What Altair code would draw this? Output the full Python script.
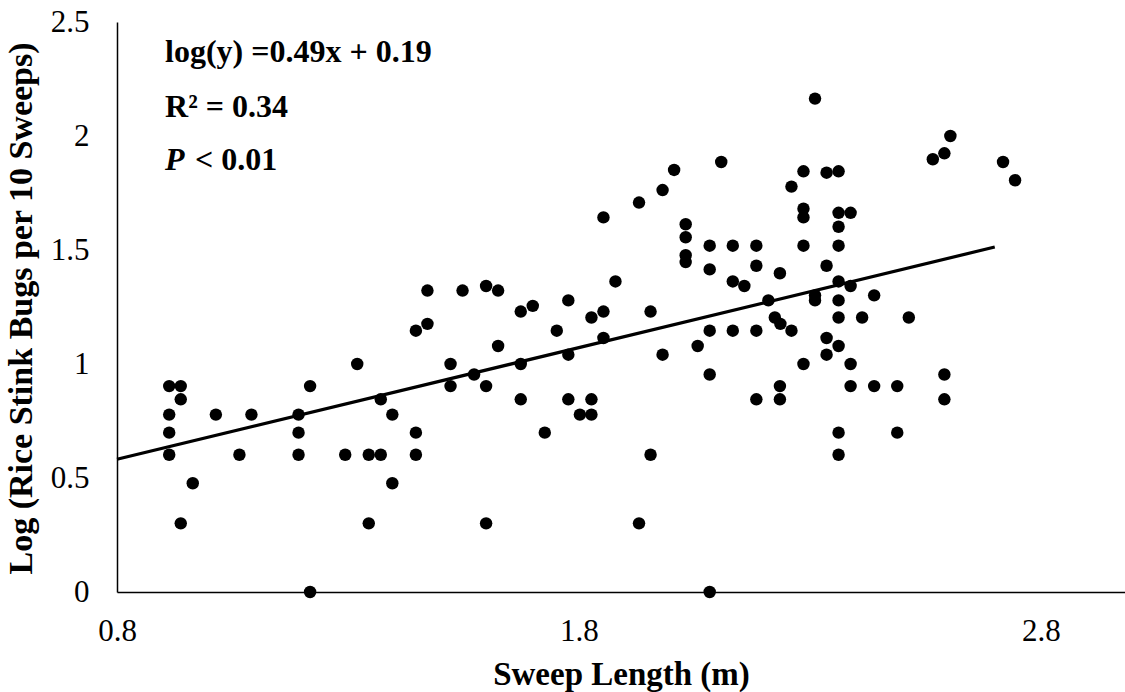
import altair as alt
import pandas as pd

# Sweep length (m) and log10 of rice stink bugs per 10 sweeps, one entry per sample
sweep_length = [
    0.913, 0.938, 0.938, 0.913, 1.014, 1.091, 1.193, 1.218, 0.913, 1.193,
    0.913, 1.065, 1.193, 1.294, 0.964, 0.938, 1.218,
    1.472, 1.548, 1.599, 1.625, 1.472, 1.447, 1.625, 1.674, 1.700,
    1.777, 1.752, 1.827, 1.320, 1.522, 1.674, 1.777, 1.573, 1.371, 1.522,
    1.599, 1.674, 1.777, 1.827, 1.396, 1.802, 1.827, 1.447, 1.726, 1.345,
    1.371, 1.447, 1.396, 1.345, 1.599,
    1.853, 1.930, 1.981, 2.006, 2.108, 1.879, 1.853, 1.955, 1.853, 1.981,
    2.057, 2.083, 2.133, 2.184, 2.083, 2.184, 2.235, 2.235, 1.955, 1.930,
    2.083, 2.031, 2.031, 2.031, 2.031, 2.083, 2.083, 2.133, 2.184, 2.184,
    2.133, 2.158, 2.235, 2.210, 2.224, 2.236, 2.260, 2.286, 2.260, 2.286,
    2.336, 2.362, 2.286, 2.286, 2.286, 2.362, 2.362, 2.362, 2.336, 2.362,
    2.311, 2.311, 2.362, 2.362, 2.336, 2.336, 2.362, 2.362, 2.362,
    2.388, 2.388, 2.439, 2.413, 2.514, 2.388, 2.388, 2.439, 2.489, 2.591,
    2.591, 2.489, 2.604, 2.591, 2.566, 2.718, 2.744, 2.311,
]
log_bugs = [
    0.903, 0.903, 0.845, 0.778, 0.778, 0.778, 0.778, 0.903, 0.699, 0.699,
    0.602, 0.602, 0.602, 0.602, 0.477, 0.301, 0.000,
    1.322, 1.322, 1.342, 1.322, 1.176, 1.146, 1.079, 1.230, 1.255,
    1.279, 1.146, 1.204, 1.000, 1.000, 1.000, 1.041, 0.954, 0.845, 0.903,
    0.903, 0.845, 0.845, 0.845, 0.778, 0.778, 0.778, 0.699, 0.699, 0.602,
    0.602, 0.602, 0.477, 0.301, 0.301,
    1.643, 1.708, 1.763, 1.851, 1.886, 1.362, 1.230, 1.230, 1.114, 1.041,
    1.079, 1.146, 1.146, 1.146, 0.954, 0.845, 0.903, 0.845, 0.602, 0.301,
    0.000, 1.613, 1.556, 1.477, 1.447, 1.519, 1.415, 1.519, 1.519, 1.431,
    1.362, 1.342, 1.398, 1.279, 1.204, 1.176, 1.146, 1.000, 1.778, 1.845,
    1.839, 1.845, 1.681, 1.643, 1.519, 1.663, 1.602, 1.519, 1.431, 1.362,
    1.301, 1.279, 1.279, 1.204, 1.114, 1.041, 1.079, 0.699, 0.602,
    1.663, 1.342, 1.301, 1.204, 1.204, 1.000, 0.903, 0.903, 0.903, 0.954,
    0.845, 0.699, 2.000, 1.924, 1.898, 1.886, 1.806, 2.164,
]

# Fitted regression: log(y) = 0.49x + 0.19, drawn over the sampled range
slope = 0.49
intercept = 0.19
fit_x = [0.8, 2.70]

# Statistics box in the upper-left corner
stat_lines = ["log(y) =0.49x + 0.19", "R\u00b2 = 0.34"]
stat_y = [2.368, 2.127]
p_label_y = 1.895
stat_x = 0.904

FONT = "Liberation Serif"

points = pd.DataFrame({"length": sweep_length, "bugs": log_bugs})
fit = pd.DataFrame({"length": fit_x, "bugs": [slope * v + intercept for v in fit_x]})
stats = pd.DataFrame({"length": [stat_x] * len(stat_lines), "bugs": stat_y, "label": stat_lines})
p_row = pd.DataFrame({"length": [stat_x], "bugs": [p_label_y]})

x_scale = alt.Scale(domain=[0.8, 2.982], nice=False, zero=False)
y_scale = alt.Scale(domain=[0, 2.5], nice=False, zero=True)

x_axis = alt.Axis(
    values=[0.8, 1.8, 2.8], format=".1f", title="Sweep Length (m)",
    grid=False, ticks=False, tickSize=0, domainColor="black", domainWidth=1.5,
    labelFont=FONT, labelFontSize=31, labelColor="black", labelPadding=24,
    labelFlush=False, labelOverlap=False,
    titleFont=FONT, titleFontSize=33, titleFontWeight="bold", titleColor="black",
    titleY=82, titleBaseline="middle",
)
y_axis = alt.Axis(
    values=[0, 0.5, 1, 1.5, 2, 2.5], format="~g",
    title="Log (Rice Stink Bugs per 10 Sweeps)",
    grid=False, ticks=False, tickSize=0, domainColor="black", domainWidth=1.5,
    labelFont=FONT, labelFontSize=31, labelColor="black", labelPadding=28,
    labelFlush=False, labelOverlap=False,
    titleFont=FONT, titleFontSize=34, titleFontWeight="bold", titleColor="black",
    titleAngle=-90, titleX=-96, titleY=286, titleAlign="center", titleBaseline="middle",
)

scatter = alt.Chart(points).mark_circle(size=155, color="black", opacity=1).encode(
    x=alt.X("length:Q", scale=x_scale, axis=x_axis),
    y=alt.Y("bugs:Q", scale=y_scale, axis=y_axis),
)

trend = alt.Chart(fit).mark_line(color="black", strokeWidth=3.2).encode(
    x=alt.X("length:Q", scale=x_scale),
    y=alt.Y("bugs:Q", scale=y_scale),
)

stat_text = alt.Chart(stats).mark_text(
    font=FONT, fontSize=32, fontWeight="bold", color="black",
    align="left", baseline="middle",
).encode(
    x=alt.X("length:Q", scale=x_scale),
    y=alt.Y("bugs:Q", scale=y_scale),
    text="label:N",
)

p_italic = alt.Chart(p_row).mark_text(
    font=FONT, fontSize=32, fontWeight="bold", fontStyle="italic", color="black",
    align="left", baseline="middle",
).encode(
    x=alt.X("length:Q", scale=x_scale),
    y=alt.Y("bugs:Q", scale=y_scale),
    text=alt.value("P"),
)

p_rest = alt.Chart(p_row).mark_text(
    font=FONT, fontSize=32, fontWeight="bold", color="black",
    align="left", baseline="middle", dx=30,
).encode(
    x=alt.X("length:Q", scale=x_scale),
    y=alt.Y("bugs:Q", scale=y_scale),
    text=alt.value("< 0.01"),
)

chart = alt.layer(scatter, trend, stat_text, p_italic, p_rest).properties(
    width=1008,
    height=570,
    padding={"left": 117, "top": 22, "right": 0, "bottom": 100},
    autosize="none",
    background="white",
).configure_view(stroke=None)

chart.save("out.html", embed_options={"renderer": "svg", "actions": False})
